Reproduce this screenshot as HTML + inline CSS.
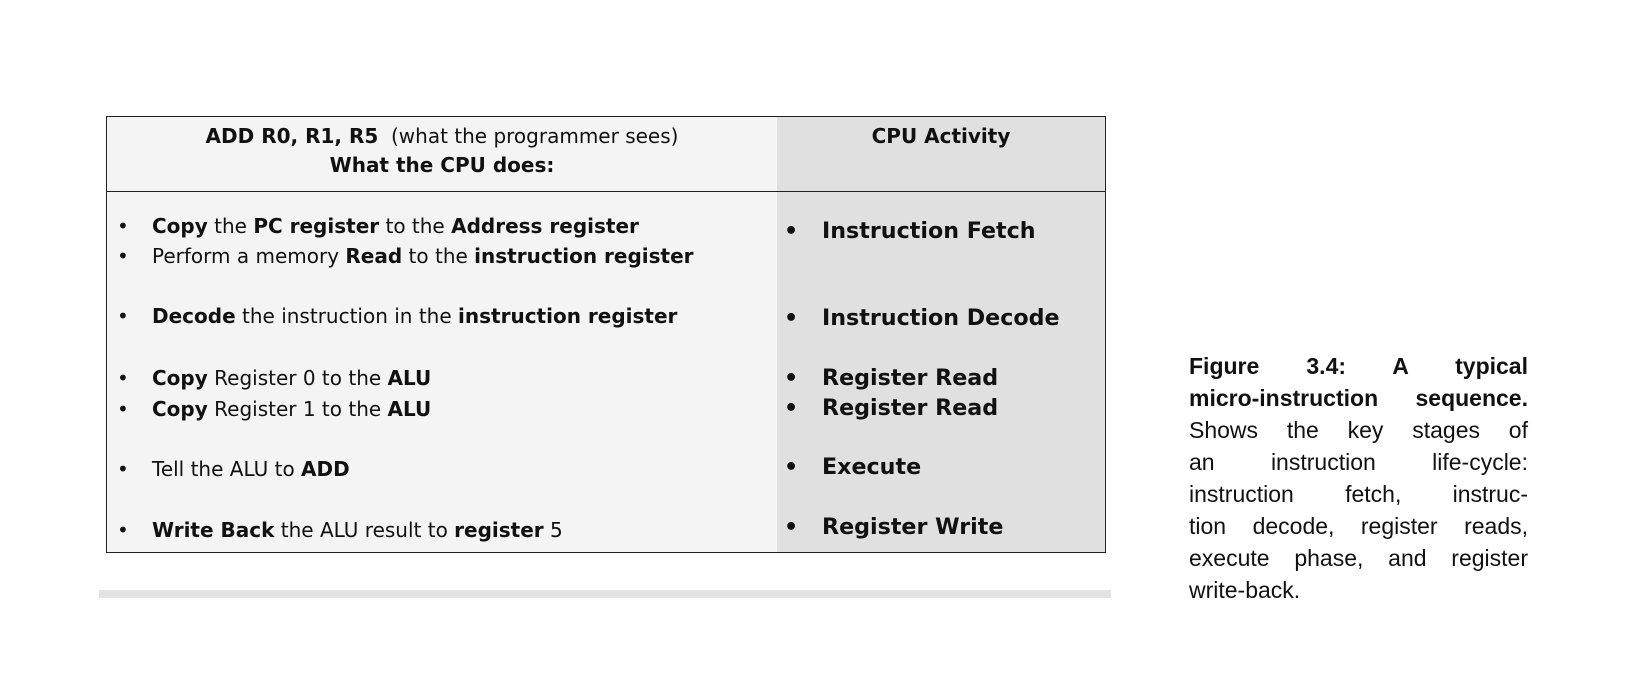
<!DOCTYPE html>
<html><head><meta charset="utf-8"><style>
html,body{margin:0;padding:0;background:#fff;width:1640px;height:678px;overflow:hidden;font-family:"DejaVu Sans","Liberation Sans",sans-serif;color:#111}
.a{position:absolute;white-space:nowrap}
.t{font-size:20px;line-height:26px}
.r{font-size:22.2px;line-height:28px;font-weight:bold}
.c{position:absolute;left:1189px;width:339px;font-family:"Liberation Sans",sans-serif;font-size:23px;line-height:32px;text-align:justify;text-align-last:justify;white-space:nowrap}
</style></head><body>
<div class="a" style="left:106px;top:116px;width:998px;height:435px;border:1px solid #222;background:#f4f4f4"></div>
<div class="a" style="left:777px;top:117px;width:328px;height:435px;background:#e0e0e0"></div>
<div class="a" style="left:107px;top:191px;width:998px;height:1px;background:#222"></div>
<div class="a" style="left:99px;top:590px;width:1012px;height:8px;background:#e3e3e3"></div>

<div class="a t" style="left:107px;width:670px;top:123px;text-align:center"><b>ADD R0, R1, R5</b>&nbsp; (what the programmer sees)</div>
<div class="a t" style="left:107px;width:670px;top:152px;text-align:center"><b>What the CPU does:</b></div>
<div class="a t" style="left:777px;width:328px;top:123px;text-align:center"><b>CPU Activity</b></div>

<div class="a t" style="left:117px;top:213px">•</div><div class="a t" style="left:152px;top:213px"><b>Copy</b> the <b>PC register</b> to the <b>Address register</b></div>
<div class="a t" style="left:117px;top:243px">•</div><div class="a t" style="left:152px;top:243px">Perform a memory <b>Read</b> to the <b>instruction register</b></div>
<div class="a t" style="left:117px;top:303px">•</div><div class="a t" style="left:152px;top:303px"><b>Decode</b> the instruction in the <b>instruction register</b></div>
<div class="a t" style="left:117px;top:365px">•</div><div class="a t" style="left:152px;top:365px"><b>Copy</b> Register 0 to the <b>ALU</b></div>
<div class="a t" style="left:117px;top:396px">•</div><div class="a t" style="left:152px;top:396px"><b>Copy</b> Register 1 to the <b>ALU</b></div>
<div class="a t" style="left:117px;top:456px">•</div><div class="a t" style="left:152px;top:456px">Tell the ALU to <b>ADD</b></div>
<div class="a t" style="left:117px;top:517px">•</div><div class="a t" style="left:152px;top:517px"><b>Write Back</b> the ALU result to <b>register</b> 5</div>

<div class="a r" style="left:784px;top:217px">•</div><div class="a r" style="left:822px;top:217px">Instruction Fetch</div>
<div class="a r" style="left:784px;top:304px">•</div><div class="a r" style="left:822px;top:304px">Instruction Decode</div>
<div class="a r" style="left:784px;top:364px">•</div><div class="a r" style="left:822px;top:364px">Register Read</div>
<div class="a r" style="left:784px;top:394px">•</div><div class="a r" style="left:822px;top:394px">Register Read</div>
<div class="a r" style="left:784px;top:453px">•</div><div class="a r" style="left:822px;top:453px">Execute</div>
<div class="a r" style="left:784px;top:513px">•</div><div class="a r" style="left:822px;top:513px">Register Write</div>

<div class="c" style="top:350px"><b>Figure 3.4: A typical</b></div>
<div class="c" style="top:382px"><b>micro-instruction sequence.</b></div>
<div class="c" style="top:414px">Shows the key stages of</div>
<div class="c" style="top:446px">an instruction life-cycle:</div>
<div class="c" style="top:478px">instruction fetch, instruc-</div>
<div class="c" style="top:510px">tion decode, register reads,</div>
<div class="c" style="top:542px">execute phase, and register</div>
<div class="c" style="top:574px;text-align-last:left">write-back.</div>
</body></html>
